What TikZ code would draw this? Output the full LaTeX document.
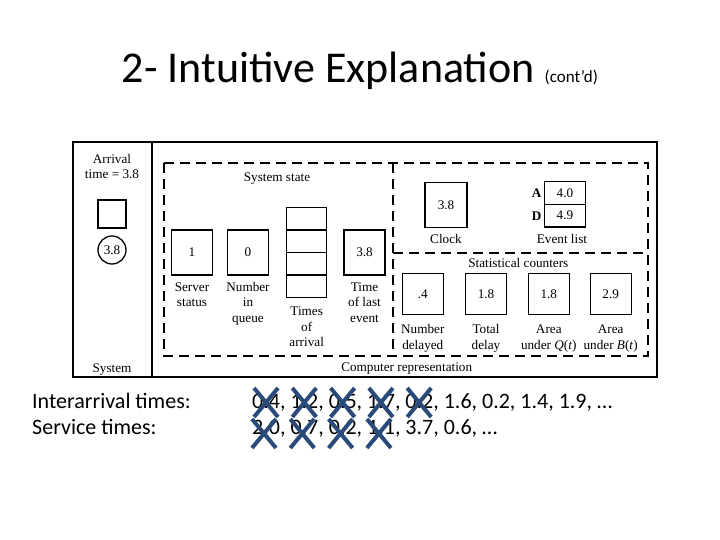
\documentclass[tikz,border=0pt]{standalone}
\usepackage{fontspec}
\setmainfont{Carlito}
\newfontfamily\tms{Liberation Serif}
\definecolor{xblue}{RGB}{42,74,122}
\newcommand{\fst}{\vrule width 0pt height 11pt depth 0pt\relax}
\begin{document}
\begin{tikzpicture}[x=1pt,y=-1pt,
  dia/.style={font=\tms\fontsize{13.2}{15.6}\selectfont},
  frame/.style={line width=1.8pt},
  dashline/.style={line width=1.5pt, dash pattern=on 10pt off 6pt},
  valbox/.style={draw, line width=1.3pt, dia, inner sep=0pt, minimum width=41pt, minimum height=45pt},
  statbox/.style={valbox, minimum height=41pt},
  cell/.style={draw, line width=1.3pt, dia, inner sep=0pt, minimum width=41pt, minimum height=22.6pt},
  lab/.style={dia, align=center, anchor=north, inner sep=0pt},
  txt/.style={dia, anchor=base, inner sep=0pt},
  body/.style={font=\fontsize{22}{26}\selectfont, anchor=base west, inner sep=0pt},
  cross/.style={draw=xblue, line width=4pt}
]
\useasboundingbox[fill=white] (0,0) rectangle (720,540);

% title
\node[anchor=base, inner sep=0pt, font=\fontsize{44}{48}\selectfont] (title) at (360,83)
  {2- Intuitive Explanation {\fontsize{17}{18}\selectfont (cont’d)}};

% frames
\draw[frame] (73,142) rectangle (657,377);
\draw[frame] (152,142) -- (152,377);
\draw[dashline] (164,163) rectangle (648,356);
\draw[dashline] (393,163) -- (393,356);
\draw[dashline] (393,253) -- (648,253);

% system side
\node[lab] (arr) at (112,152) {\fst Arrival\\time = 3.8};
\node[draw, line width=1.3pt, minimum size=28pt, inner sep=0pt] (sq) at (112,214) {};
\node[draw, circle, line width=1.3pt, minimum size=28pt, inner sep=0pt, dia] (cir) at (112,250) {3.8};
\node[txt] (sys) at (112,372) {System};

% system state
\node[txt] (sst) at (277,181.5) {System state};
\node[valbox] (srv) at (192,252.5) {1};
\node[valbox] (niq) at (248,252.5) {0};
\node[cell, minimum width=40pt, minimum height=22.5pt] (t1) at (306.7,218.6) {};
\node[cell, minimum width=40pt, minimum height=22.5pt] (t2) at (306.7,241.2) {};
\node[cell, minimum width=40pt, minimum height=22.5pt] (t3) at (306.7,263.8) {};
\node[cell, minimum width=40pt, minimum height=22.5pt] (t4) at (306.7,286.2) {};
\node[valbox] (tle) at (364.5,252.5) {3.8};

\node[lab] (l1) at (192,280) {\fst Server\\status};
\node[lab] (l2) at (248,280) {\fst Number\\in\\queue};
\node[lab] (l3) at (306.7,304.5) {\fst Times\\of\\arrival};
\node[lab] (l4) at (364.5,280) {\fst Time\\of last\\event};

% clock and event list
\node[valbox, minimum width=42pt, minimum height=44.6pt] (clk) at (446,205) {3.8};
\node[lab] (lclk) at (446,232) {\fst Clock};
\node[cell] (e1) at (564.9,193) {4.0};
\node[cell] (e2) at (564.9,215.6) {4.9};
\node[dia, font=\tms\bfseries\fontsize{13.2}{16}\selectfont, inner sep=0pt] (ea) at (536.7,193.3) {A};
\node[dia, font=\tms\bfseries\fontsize{13.2}{16}\selectfont, inner sep=0pt] (ed) at (536.7,216.5) {D};
\node[lab] (lev) at (562,232) {\fst Event list};

% statistical counters
\node[txt] (stc) at (518.3,267.8) {Statistical counters};
\node[statbox] (s1) at (422.8,294) {.4};
\node[statbox] (s2) at (486,294) {1.8};
\node[statbox] (s3) at (548.8,294) {1.8};
\node[statbox] (s4) at (610.7,294) {2.9};
\node[lab] (ls1) at (422.8,322.5) {\fst Number\\delayed};
\node[lab] (ls2) at (486,322.5) {\fst Total\\delay};
\node[lab] (ls3) at (548.8,322.5) {\fst Area\\under \textit{Q}(\textit{t})};
\node[lab] (ls4) at (610.7,322.5) {\fst Area\\under \textit{B}(\textit{t})};

\node[txt] (cr) at (406.7,371.5) {Computer representation};

% body text
\node[body] (ia) at (32,408) {Interarrival times:};
\node[body] (sv) at (32,434) {Service times:};
\node[body] (ian) at (252,408) {0.4, 1.2, 0.5, 1.7, 0.2, 1.6, 0.2, 1.4, 1.9, …};
\node[body] (svn) at (252,434) {2.0, 0.7, 0.2, 1.1, 3.7, 0.6, …};

% crosses
\foreach \c in {266,304.3,342.6,380.9,419.2}{
  \draw[cross] (\c-12,388) -- (\c+12,417);
  \draw[cross] (\c+12,388) -- (\c-12,417);
}
\foreach \c in {264,302.3,340.6,378.9}{
  \draw[cross] (\c-12,419) -- (\c+12,448);
  \draw[cross] (\c+12,419) -- (\c-12,448);
}
\end{tikzpicture}
\end{document}
